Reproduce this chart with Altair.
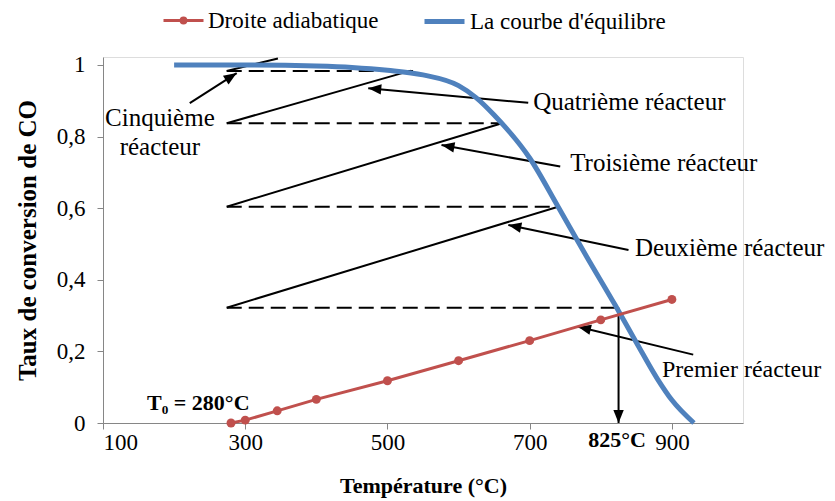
import math
import altair as alt
import pandas as pd

# ---------------- data ----------------
adi_T = [280, 300, 345, 400, 500, 600, 700, 800, 900]
adi_X = [0.0, 0.008, 0.034, 0.066, 0.118, 0.174, 0.230, 0.288, 0.345]

eq_T = [200, 300, 400, 450, 500, 550, 600, 625, 650, 700, 740, 780, 820, 850, 880, 900, 931]
eq_X = [1.0, 1.0, 0.997, 0.993, 0.985, 0.972, 0.942, 0.908, 0.86, 0.74, 0.604, 0.465, 0.33, 0.225, 0.122, 0.064, 0.0]

# staircase (solid adiabatic segments and dashed cooling segments)
solid_T1 = [274, 274, 274, 274]
solid_X1 = [0.322, 0.604, 0.837, 0.983]
solid_T2 = [740, 661, 533, 346]
solid_X2 = [0.604, 0.837, 0.984, 1.018]

dash_T1 = [274, 274, 274, 274]
dash_T2 = [825, 740, 661, 536]
dash_X = [0.322, 0.604, 0.837, 0.983]

# arrows (tail -> tip)
arrow_T1 = [930, 839, 743, 698, 222, 825]
arrow_X1 = [0.191, 0.483, 0.716, 0.894, 0.893, 0.322]
arrow_T2 = [768, 670, 576, 473, 288, 825]
arrow_X2 = [0.269, 0.553, 0.776, 0.935, 0.977, 0.0]

# annotation labels
lab_text = ["Deuxième réacteur", "Troisième réacteur", "Quatrième réacteur"]
lab_T = [848, 757, 705]
lab_X = [0.488, 0.725, 0.897]

prem_text = ["Premier réacteur"]
prem_T = [886]
prem_X = [0.147]

cinq_text = ["Cinquième", "réacteur"]
cinq_T = [180, 180]
cinq_X = [0.851, 0.772]

bold_text = ["T\u2080 = 280°C", "825°C"]
bold_T = [234, 823]
bold_X = [0.056, -0.0475]

x_ticks = [100, 300, 500, 700, 900]
y_ticks = [0, 0.2, 0.4, 0.6, 0.8, 1]

# ---------------- geometry ----------------
W, H = 640, 366
XDOM = [100, 1000]
YDOM = [0, 1.022]
kx = W / (XDOM[1] - XDOM[0])
ky = H / (YDOM[1] - YDOM[0])


def ang(t1, x1, t2, x2):
    dx = (t2 - t1) * kx
    dy = -(x2 - x1) * ky
    return (math.degrees(math.atan2(dx, -dy)) + 360) % 360


RED = "#C0504D"
BLUE = "#4F81BD"
GRAY = "#868686"
FONT = "Liberation Serif"

xs = alt.Scale(domain=XDOM, nice=False, zero=False)
ys = alt.Scale(domain=YDOM, nice=False, zero=False)

XAX = alt.Axis(
    values=x_ticks, title="Température (°C)", grid=False, tickSize=6,
    tickColor=GRAY, domainColor=GRAY, labelFont=FONT, labelFontSize=23,
    labelColor="black", labelPadding=2, titleFont=FONT, titleFontSize=22,
    titleFontWeight="bold", titleColor="black", titlePadding=21)
YAX = alt.Axis(
    values=y_ticks, title="Taux de conversion de CO", grid=False, tickSize=6,
    tickColor=GRAY, domainColor=GRAY, labelFont=FONT, labelFontSize=23,
    labelColor="black", labelPadding=12,
    labelExpr="replace(format(datum.value, '~g'), '.', ',')",
    titleFont=FONT, titleFontSize=25, titleFontWeight="bold",
    titleColor="black", titlePadding=16)


def X(f):
    return alt.X(f, scale=xs, axis=XAX)


def Y(f):
    return alt.Y(f, scale=ys, axis=YAX)


adi = pd.DataFrame({"T": adi_T, "X": adi_X, "s": "Droite adiabatique"})
eq = pd.DataFrame({"T": eq_T, "X": eq_X, "s": "La courbe d'équilibre"})
solid = pd.DataFrame({"T1": solid_T1, "X1": solid_X1, "T2": solid_T2, "X2": solid_X2})
dash = pd.DataFrame({"T1": dash_T1, "T2": dash_T2, "X": dash_X})
arr = pd.DataFrame({"T1": arrow_T1, "X1": arrow_X1, "T2": arrow_T2, "X2": arrow_X2})
arr["a"] = [ang(a, b, c, d) for a, b, c, d in zip(arrow_T1, arrow_X1, arrow_T2, arrow_X2)]
labs = pd.DataFrame({"t": lab_text, "T": lab_T, "X": lab_X})
prem = pd.DataFrame({"t": prem_text, "T": prem_T, "X": prem_X})
cinq = pd.DataFrame({"t": cinq_text, "T": cinq_T, "X": cinq_X})
bold = pd.DataFrame({"t": bold_text, "T": bold_T, "X": bold_X})

# ---------------- layers ----------------
eq_layer = alt.Chart(eq).mark_line(strokeWidth=5, interpolate="monotone").encode(
    x=X("T:Q"), y=Y("X:Q"),
    stroke=alt.Stroke("s:N", scale=alt.Scale(domain=["La courbe d'équilibre"], range=[BLUE]),
                      legend=alt.Legend(orient="none", legendX=329, legendY=-48, title=None,
                                        symbolType="M-2,0L2,0", symbolSize=400,
                                        symbolStrokeWidth=5, labelFont=FONT,
                                        labelFontSize=23, labelColor="black",
                                        labelOffset=13, padding=0, labelLimit=0)),
)

adi_line = alt.Chart(adi).mark_line(strokeWidth=3).encode(
    x=X("T:Q"), y=Y("X:Q"),
    color=alt.Color("s:N", scale=alt.Scale(domain=["Droite adiabatique"], range=[RED]),
                    legend=alt.Legend(orient="none", legendX=69, legendY=-48, title=None,
                                      symbolType="M-2,0L2,0M-0.24,0A0.24,0.24 0 1,1 0.24,0A0.24,0.24 0 1,1 -0.24,0",
                                      symbolSize=400, symbolStrokeWidth=3,
                                      labelFont=FONT, labelFontSize=23,
                                      labelColor="black", labelOffset=13, padding=0,
                                      labelLimit=0)),
)

adi_pts = alt.Chart(adi).mark_point(filled=True, size=80, opacity=1, color=RED).encode(
    x=X("T:Q"), y=Y("X:Q"),
)

solid_layer = alt.Chart(solid).mark_rule(color="black", strokeWidth=2).encode(
    x=X("T1:Q"), y=Y("X1:Q"), x2="T2:Q", y2="X2:Q",
)

dash_layer = alt.Chart(dash).mark_rule(color="black", strokeWidth=2, strokeDash=[15, 7]).encode(
    x=X("T1:Q"), y=Y("X:Q"), x2="T2:Q",
)

arrow_lines = alt.Chart(arr).mark_rule(color="black", strokeWidth=2).encode(
    x=X("T1:Q"), y=Y("X1:Q"), x2="T2:Q", y2="X2:Q",
)

arrow_heads = alt.Chart(arr).mark_point(
    shape="M0,0L-0.4,1L0.4,1Z", filled=True, size=676, color="black", opacity=1
).encode(
    x=X("T2:Q"), y=Y("X2:Q"),
    angle=alt.Angle("a:Q", scale=None),
)

lab_layer = alt.Chart(labs).mark_text(
    align="left", baseline="middle", font=FONT, fontSize=25, color="black"
).encode(x=X("T:Q"), y=Y("X:Q"), text="t:N")

prem_layer = alt.Chart(prem).mark_text(
    align="left", baseline="middle", font=FONT, fontSize=24, color="black"
).encode(x=X("T:Q"), y=Y("X:Q"), text="t:N")

cinq_layer = alt.Chart(cinq).mark_text(
    align="center", baseline="middle", font=FONT, fontSize=25, color="black"
).encode(x=X("T:Q"), y=Y("X:Q"), text="t:N")

bold_layer = alt.Chart(bold).mark_text(
    align="center", baseline="middle", font=FONT, fontSize=22, fontWeight="bold", color="black"
).encode(x=X("T:Q"), y=Y("X:Q"), text="t:N")

chart = alt.layer(
    dash_layer, solid_layer, arrow_lines, arrow_heads, eq_layer, adi_line, adi_pts,
    lab_layer, prem_layer, cinq_layer, bold_layer,
).resolve_scale(color="independent", stroke="independent").properties(
    width=W, height=H,
    autosize=alt.AutoSizeParams(type="none"),
    padding={"left": 95, "top": 49, "right": 84, "bottom": 76},
).configure_view(stroke=GRAY, strokeWidth=1).configure(background="white")

chart.save("out.html", embed_options={"renderer": "svg", "actions": False})
